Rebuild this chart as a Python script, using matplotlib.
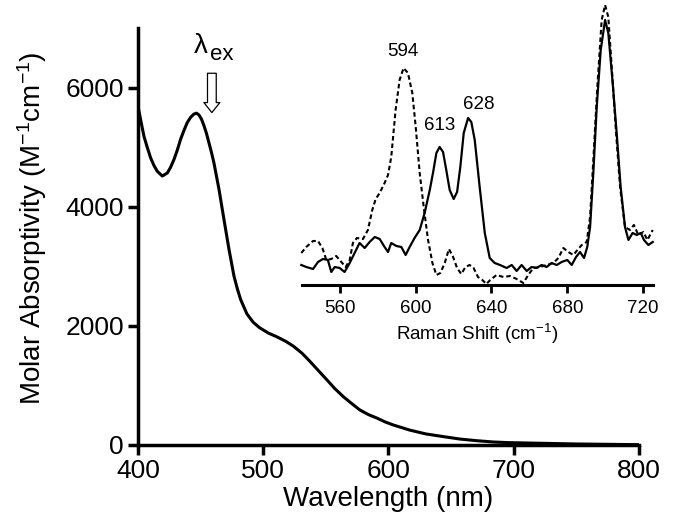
import numpy as np
import matplotlib
matplotlib.use('Agg')
import matplotlib.pyplot as plt

plt.rcParams['font.family'] = ['Liberation Sans', 'DejaVu Sans']
plt.rcParams['mathtext.fontset'] = 'custom'
plt.rcParams['mathtext.rm'] = 'Liberation Sans'
plt.rcParams['mathtext.it'] = 'Liberation Sans:italic'

# absorption spectrum (nm, M-1 cm-1)
wavelength = [400, 402.5, 404.8, 407.5, 410.1, 412.8, 415.4, 419.4, 423.4, 426,
              428.7, 431.4, 434, 436.7, 439.3, 442, 444.7, 446.7, 448.7, 450.7,
              452.7, 454.7, 456.7, 458.7, 460.7, 464.7, 468.7, 472.7, 476.7, 479.5,
              482, 487, 492, 497, 504, 511, 518, 524, 531, 537,
              544, 551, 557, 564, 571, 577, 584, 591, 597, 604,
              617, 630, 644, 657, 670, 684, 697, 724, 750, 777, 800]
absorb = [5690, 5420, 5180, 4990, 4820, 4690, 4595, 4515, 4565, 4660,
          4790, 4950, 5130, 5280, 5410, 5500, 5555, 5570, 5540, 5470,
          5360, 5230, 5070, 4910, 4730, 4290, 3780, 3280, 2830, 2610,
          2440, 2200, 2060, 1970, 1880, 1815, 1740, 1660, 1540, 1410,
          1250, 1090, 950, 810, 690, 590, 510, 450, 390, 335,
          250, 185, 140, 100, 73, 50, 39, 28, 17, 11, 5]

# resonance Raman, solid trace
raman_x1 = [539.8, 542.4, 546, 548.6, 551.2, 553.8, 555.6, 557.4, 560, 562.6,
            565.3, 567.9, 570.5, 573.2, 575.8, 578.5, 581.1, 583.7, 585.5, 587.2,
            589.9, 592.5, 594.8, 596.9, 599.5, 602.2, 604.8, 607.5, 609.2, 611,
            612.7, 614.5, 616.2, 618, 620.1, 621.9, 623.6, 625.4, 627.7, 629.4,
            631.2, 633.8, 636.5, 639.1, 641.7, 644.5, 648, 650.7, 653.3, 655.9,
            658.6, 661.2, 663.8, 666.5, 669.1, 671.7, 674.4, 677, 680, 682.3,
            684.6, 686.7, 688.8, 690.5, 692, 693.7, 695.5, 697.6, 699.9, 701.6,
            703.9, 706, 708.1, 710.4, 712.2, 714.4, 716.6, 718.7, 720.4, 722.7,
            725]
raman_y1 = [20, 18, 16, 23, 26, 25, 13, 18, 17, 13,
            22, 32, 42, 37, 43, 48, 46, 38, 33, 42,
            39, 38, 30, 38, 47, 55, 72, 95, 112, 132,
            138, 133, 115, 95, 86, 93, 118, 152, 167, 163,
            145, 98, 52, 27, 22, 20, 17, 20, 14, 20,
            14, 18, 17, 20, 18, 22, 20, 23, 25, 20,
            28, 33, 27, 38, 58, 112, 178, 235, 265, 252,
            202, 152, 98, 58, 45, 52, 50, 52, 45, 40,
            43]

# resonance Raman, dashed trace
raman_x2 = [539.8, 542.4, 546, 548.6, 550.9, 553, 555.6, 558.2, 560.9, 563.2,
            565.3, 567, 569.1, 572.3, 574.9, 577.2, 579, 581.1, 583.7, 585.5,
            587.2, 589.5, 591.6, 593.7, 596, 598.3, 600.1, 602.2, 604.3, 606.6,
            608.9, 611, 613.1, 615.4, 617.6, 619.8, 621.9, 624.1, 626.3, 628.5,
            630.6, 632.9, 635.2, 637.3, 639.4, 642.7, 646.3, 649.8, 653.3, 656.8,
            659.4, 662.1, 665.6, 669.1, 672.6, 675.3, 677.9, 680.5, 683.2, 685.3,
            687.6, 690.2, 692, 693.7, 695.8, 698.1, 699.9, 701.6, 703.4, 705.7,
            707.8, 710.4, 713, 715.1, 717.4, 720.1, 722.2, 725]
raman_y2 = [32, 38, 44, 44, 37, 25, 26, 29, 23, 18,
            25, 42, 47, 46, 55, 75, 86, 92, 102, 110,
            128, 175, 205, 217, 212, 192, 158, 112, 78, 45,
            22, 10, 12, 22, 36, 28, 17, 11, 18, 20,
            17, 8, 5, 1, 5, 10, 8, 9, 6, 2,
            10, 17, 18, 20, 22, 27, 37, 33, 30, 35,
            40, 43, 68, 125, 198, 265, 280, 268, 218, 152,
            98, 58, 55, 60, 50, 53, 45, 55]

peak_labels = ['594', '613', '628']
peak_label_x = [593.2, 612.7, 633.3]
peak_label_y = [233, 159, 180]

fig = plt.figure(figsize=(6.81, 5.26), dpi=100)

# main panel
ax = fig.add_axes([0.2026, 0.154, 0.7357, 0.7928])
ax.plot(wavelength, absorb, color='black', lw=2.2,
        solid_capstyle='round', solid_joinstyle='round')
ax.set_xlim(400, 800)
ax.set_ylim(0, 7000)
ax.set_xticks([400, 500, 600, 700, 800])
ax.set_yticks([0, 2000, 4000, 6000])
for s in ['top', 'right']:
    ax.spines[s].set_visible(False)
for s in ['left', 'bottom']:
    ax.spines[s].set_linewidth(2.5)
ax.tick_params(width=2.5, length=7, labelsize=19, pad=3)
ax.set_xlabel('Wavelength (nm)', fontsize=20)
ax.set_ylabel('Molar Absorptivity (M$^{-1}$cm$^{-1}$)', fontsize=20)
ax.yaxis.set_label_coords(-0.178, 0.52)
ax.xaxis.set_label_coords(0.5, -0.098)

# excitation wavelength marker
ax.annotate('', xy=(459, 5580), xytext=(459, 6240),
            arrowprops=dict(arrowstyle='simple,head_width=1.15,head_length=0.72,tail_width=0.63',
                            mutation_scale=10, fc='white', ec='black', lw=0.9,
                            shrinkA=0, shrinkB=0))
ax.text(450, 6700, 'λ', fontsize=20, ha='center', va='center')
ax.text(466.5, 6560, 'ex', fontsize=16, ha='center', va='center')

# inset with Raman spectra
ins = fig.add_axes([0.443, 0.4582, 0.5163, 0.5418])
ins.patch.set_alpha(0)
ins.plot(raman_x1, raman_y1, color='black', lw=1.6, clip_on=False)
ins.plot(raman_x2, raman_y2, color='black', lw=1.5, linestyle=(0, (2.2, 1.4)), clip_on=False)
ins.set_xlim(540, 725.3)
ins.set_ylim(0, 285)
ins.set_xticks([560, 600, 640, 680, 720])
ins.set_yticks([])
for s in ['top', 'right', 'left']:
    ins.spines[s].set_visible(False)
ins.spines['bottom'].set_linewidth(2.2)
ins.tick_params(axis='x', width=2, length=6, labelsize=13.5, pad=5)
ins.set_xlabel('Raman Shift (cm$^{-1}$)', fontsize=13.5, labelpad=3)
for lab, px, py in zip(peak_labels, peak_label_x, peak_label_y):
    ins.text(px, py, lab, fontsize=13.5, ha='center', va='center')

fig.savefig('out.png', dpi=100)
